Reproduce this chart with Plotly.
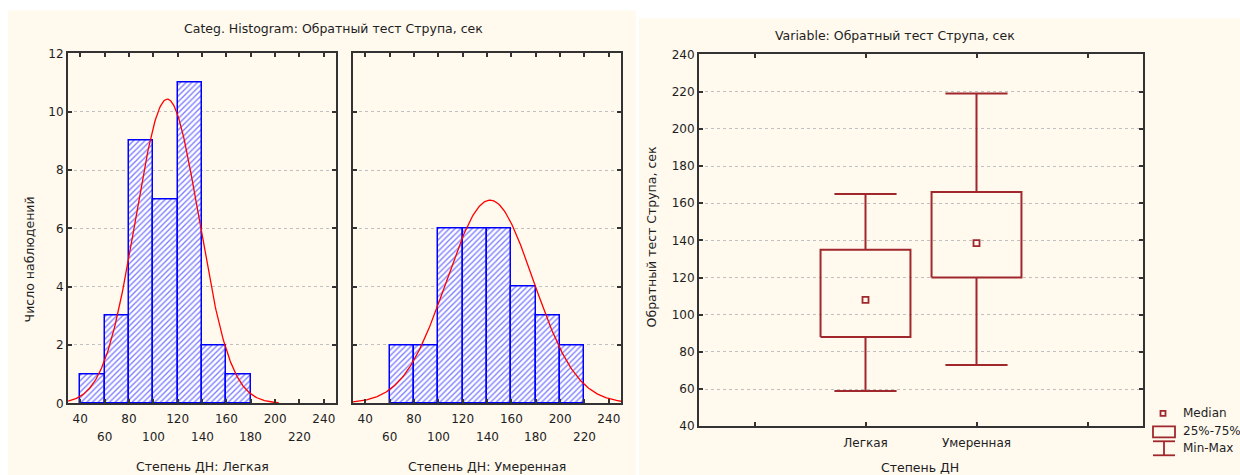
import numpy as np
import plotly.graph_objects as go

# ---------------- data ----------------
BIN_WIDTH = 20
LIGHT_BIN_LEFT = [40, 60, 80, 100, 120, 140, 160]
LIGHT_COUNTS = [1, 3, 9, 7, 11, 2, 1]
MOD_BIN_LEFT = [60, 80, 100, 120, 140, 160, 180, 200]
MOD_COUNTS = [2, 2, 6, 6, 6, 4, 3, 2]

# fitted normal curves (mean, sd)
LIGHT_MEAN, LIGHT_SD = 111.5, 26.0
MOD_MEAN, MOD_SD = 142.5, 35.5
LIGHT_CURVE_RANGE = (30, 203)
MOD_CURVE_RANGE = (30, 250)

HIST_TICKS_ROW1 = [40, 80, 120, 160, 200, 240]
HIST_TICKS_ROW2 = [60, 100, 140, 180, 220]

BOX_CATS = ["Легкая", "Умеренная"]
BOX_MIN = [59, 73]
BOX_Q1 = [88, 120]
BOX_MED = [108, 138.5]
BOX_Q3 = [135, 166]
BOX_MAX = [165, 219]

W, H = 1240, 475
# observed vertical mapping of the renderer (screen = OY + SY * layout px)
OY, SY = 6.5, 0.971
def px(x): return x / W
def py(y): return 1 - ((y - OY) / SY) / H

FONT = "DejaVu Sans, Verdana, sans-serif"
TXT = "#1e1e1e"
BLUE = "#0000FF"
RED = "#FF0000"
BOXC = "#A0282D"
AXC = "#333333"
GRIDC = "#c0c0c0"
CREAM = "#FFF9EE"

fig = go.Figure()

def add_hist(left_edges, counts, mean, sd, crange, xa, ya):
    mids = [l + BIN_WIDTH / 2 for l in left_edges]
    fig.add_trace(go.Bar(
        x=mids, y=counts, width=BIN_WIDTH, xaxis=xa, yaxis=ya,
        marker=dict(color="white",
                    line=dict(color=BLUE, width=1.5),
                    pattern=dict(shape="/", fgcolor=BLUE, bgcolor="white",
                                 size=4, solidity=0.35)),
        showlegend=False, hoverinfo="skip"))
    n = sum(counts)
    xs = np.linspace(crange[0], crange[1], 300)
    ys = n * BIN_WIDTH / (sd * np.sqrt(2 * np.pi)) * np.exp(-0.5 * ((xs - mean) / sd) ** 2)
    fig.add_trace(go.Scatter(x=xs, y=ys, mode="lines", xaxis=xa, yaxis=ya,
                             line=dict(color=RED, width=1.3),
                             showlegend=False, hoverinfo="skip"))

add_hist(LIGHT_BIN_LEFT, LIGHT_COUNTS, LIGHT_MEAN, LIGHT_SD, LIGHT_CURVE_RANGE, "x", "y")
add_hist(MOD_BIN_LEFT, MOD_COUNTS, MOD_MEAN, MOD_SD, MOD_CURVE_RANGE, "x2", "y2")

# ---------------- box plot ----------------
HALF_BOX = 0.405
HALF_CAP = 0.28
for i, cat in enumerate(BOX_CATS):
    p = i + 1
    fig.add_trace(go.Scatter(
        x=[p - HALF_BOX, p + HALF_BOX, p + HALF_BOX, p - HALF_BOX, p - HALF_BOX],
        y=[BOX_Q1[i], BOX_Q1[i], BOX_Q3[i], BOX_Q3[i], BOX_Q1[i]],
        mode="lines", line=dict(color=BOXC, width=2), xaxis="x3", yaxis="y3",
        showlegend=False, hoverinfo="skip"))
    for a, b in [(BOX_Q3[i], BOX_MAX[i]), (BOX_Q1[i], BOX_MIN[i])]:
        fig.add_trace(go.Scatter(x=[p, p], y=[a, b], mode="lines",
                                 line=dict(color=BOXC, width=2), xaxis="x3", yaxis="y3",
                                 showlegend=False, hoverinfo="skip"))
    for v in [BOX_MAX[i], BOX_MIN[i]]:
        fig.add_trace(go.Scatter(x=[p - HALF_CAP, p + HALF_CAP], y=[v, v], mode="lines",
                                 line=dict(color=BOXC, width=2), xaxis="x3", yaxis="y3",
                                 showlegend=False, hoverinfo="skip"))
    fig.add_trace(go.Scatter(x=[p], y=[BOX_MED[i]], mode="markers",
                             marker=dict(symbol="square-open", size=6, color=BOXC,
                                         line=dict(width=1.8, color=BOXC)),
                             xaxis="x3", yaxis="y3", showlegend=False, hoverinfo="skip"))

tickfont = dict(family=FONT, size=12, color=TXT)
common_x = dict(showline=True, linecolor=AXC, linewidth=2, mirror="ticks",
                ticks="inside", ticklen=4, tickcolor=AXC, tickwidth=1.5,
                showgrid=False, zeroline=False, tickfont=tickfont)
common_y = dict(showline=True, linecolor=AXC, linewidth=2, mirror="ticks",
                ticks="inside", ticklen=4, tickcolor=AXC, tickwidth=1.5,
                showgrid=True, gridcolor=GRIDC, griddash="dot", gridwidth=1,
                zeroline=False, tickfont=tickfont)

hist_tickvals = list(range(40, 241, 20))
hist_ticktext = [str(v) if v in HIST_TICKS_ROW1 else "" for v in hist_tickvals]

hist_ydom = [py(403), py(53)]
fig.update_layout(
    width=W, height=H, margin=dict(l=0, r=0, t=0, b=0),
    paper_bgcolor="white", plot_bgcolor="white",
    xaxis=dict(domain=[px(68), px(336)], range=[30, 250], anchor="y",
               tickvals=hist_tickvals, ticktext=hist_ticktext,
               ticklabelstandoff=3, **common_x),
    yaxis=dict(domain=hist_ydom, range=[0, 12], dtick=2, anchor="x", **common_y),
    xaxis2=dict(domain=[px(353), px(621)], range=[30, 250], anchor="y2",
                tickvals=hist_tickvals, ticktext=hist_ticktext,
                ticklabelstandoff=3, **common_x),
    yaxis2=dict(domain=hist_ydom, range=[0, 12], dtick=2, anchor="x2",
                showticklabels=False, **common_y),
    xaxis3=dict(domain=[px(699), px(1143)], range=[-0.5, 3.5], anchor="y3",
                tickvals=[0, 1, 2, 3], ticktext=[""] + BOX_CATS + [""],
                ticklabelstandoff=4, **common_x),
    yaxis3=dict(domain=[py(426), py(54)], range=[40, 240], dtick=20, anchor="x3",
                **common_y),
    bargap=0,
)

shapes = [
    dict(type="rect", xref="paper", yref="paper", x0=px(8), x1=px(636), y0=py(480), y1=py(10),
         fillcolor=CREAM, line=dict(width=0), layer="below"),
    dict(type="rect", xref="paper", yref="paper", x0=px(639), x1=px(1240), y0=py(480), y1=py(18),
         fillcolor=CREAM, line=dict(width=0), layer="below"),
    # legend glyphs
    dict(type="rect", xref="paper", yref="paper", x0=px(1160.5), x1=px(1165.5),
         y0=py(415.5), y1=py(410.5), line=dict(color=BOXC, width=1.8)),
    dict(type="rect", xref="paper", yref="paper", x0=px(1153), x1=px(1175),
         y0=py(437), y1=py(426), line=dict(color=BOXC, width=1.8)),
    dict(type="line", xref="paper", yref="paper", x0=px(1153), x1=px(1175),
         y0=py(441), y1=py(441), line=dict(color=BOXC, width=1.8)),
    dict(type="line", xref="paper", yref="paper", x0=px(1153), x1=px(1175),
         y0=py(455), y1=py(455), line=dict(color=BOXC, width=1.8)),
    dict(type="line", xref="paper", yref="paper", x0=px(1164), x1=px(1164),
         y0=py(441), y1=py(455), line=dict(color=BOXC, width=1.8)),
]
fig.update_layout(shapes=shapes)

ann = []
def text(x, y, s, size=12, angle=0, xanchor="center"):
    ann.append(dict(x=px(x), y=py(y), xref="paper", yref="paper", text=s, showarrow=False,
                    font=dict(family=FONT, size=size, color=TXT), textangle=angle,
                    xanchor=xanchor, yanchor="middle"))

text(333, 28, "Categ. Histogram: Обратный тест Струпа, сек", 12.5)
text(29, 259, "Число наблюдений", 12.5, -90)
text(202, 466, "Степень ДН: Легкая", 12.5)
text(487, 466, "Степень ДН: Умеренная", 12.5)
text(895, 35, "Variable: Обратный тест Струпа, сек", 12.5)
text(651, 237, "Обратный тест Струпа, сек", 12.5, -90)
text(920, 467, "Степень ДН", 12.5)
text(1181, 413, "Median", 12, xanchor="left")
text(1181, 431, "25%-75%", 12, xanchor="left")
text(1181, 448, "Min-Max", 12, xanchor="left")

for xa in ["x", "x2"]:
    for v in HIST_TICKS_ROW2:
        ann.append(dict(x=v, y=py(437), xref=xa, yref="paper", text=str(v), showarrow=False,
                        font=dict(family=FONT, size=12, color=TXT),
                        xanchor="center", yanchor="middle"))

fig.update_layout(annotations=ann)
fig.write_html("out.html")
